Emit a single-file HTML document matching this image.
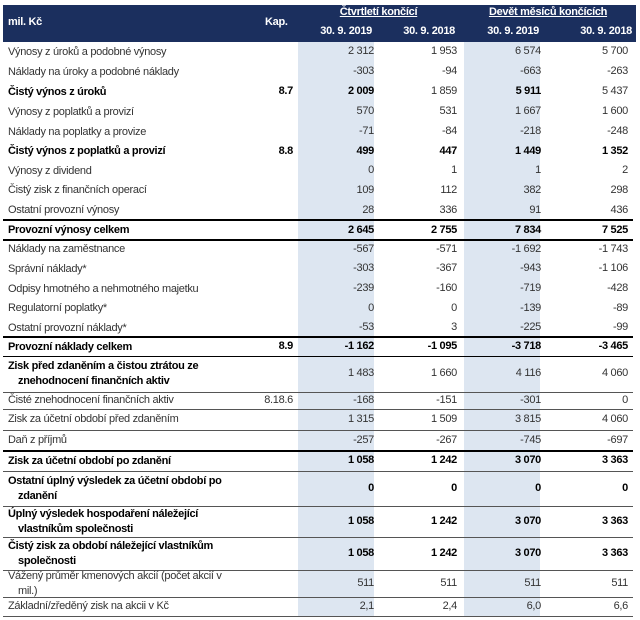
<!DOCTYPE html>
<html><head><meta charset="utf-8"><style>
body{margin:0;width:640px;height:620px;background:#fff;position:relative;overflow:hidden;font-family:"Liberation Sans",Arial,sans-serif;font-size:11px;color:#333;letter-spacing:-0.3px}
.hdr{position:absolute;left:3px;top:5px;width:633px;height:37px;background:#1b2f5e}
.h{position:absolute;color:#fff;font-weight:bold;font-size:11px}
.shade{position:absolute;top:42px;height:574px;background:#dde6f1}
.row{position:absolute;left:3px;width:630px}
.row div{position:absolute}
.lab{left:5px;line-height:15px}
.kap{right:340px;text-align:right}
.c1{right:259px}.c2{right:176px}.c3{right:92px}.c4{right:5px}
.b{font-weight:bold;color:#000}
.ln{position:absolute;left:3px;width:630px;background:#555;height:1px}
.tk{position:absolute;left:3px;width:630px;background:#000;height:2px}
.ind{padding-left:10px}
</style></head><body>
<div class="hdr"></div>
<div class="h" style="left:8px;top:16px">mil. Kč</div>
<div class="h" style="left:265px;top:16px">Kap.</div>
<div class="h" style="left:297px;width:163px;top:6px;text-align:center;text-decoration:underline">Čtvrtletí končící</div>
<div class="h" style="left:460px;width:176px;top:6px;text-align:center;text-decoration:underline">Devět měsíců končících</div>
<div class="h" style="right:268px;top:25px">30. 9. 2019</div>
<div class="h" style="right:185px;top:25px">30. 9. 2018</div>
<div class="h" style="right:101px;top:25px">30. 9. 2019</div>
<div class="h" style="right:8px;top:25px">30. 9. 2018</div>
<div class="shade" style="left:298px;width:76px"></div>
<div class="shade" style="left:464px;width:76px"></div>
<div id="rows"></div>
<div class="tk" style="top:219px"></div>
<div class="tk" style="top:239px"></div>
<div class="tk" style="top:336px"></div>
<div class="ln" style="top:356px;background:#000"></div>
<div class="ln" style="top:392px"></div>
<div class="ln" style="top:409px"></div>
<div class="ln" style="top:430px"></div>
<div class="tk" style="top:450px"></div>
<div class="ln" style="top:471px"></div>
<div class="ln" style="top:506px"></div>
<div class="ln" style="top:537px"></div>
<div class="ln" style="top:570px"></div>
<div class="ln" style="top:597px"></div>
<div class="ln" style="top:616px"></div>
<script>
const labels=[["Výnosy z úroků a podobné výnosy"],["Náklady na úroky a podobné náklady"],["Čistý výnos z úroků"],["Výnosy z poplatků a provizí"],["Náklady na poplatky a provize"],["Čistý výnos z poplatků a provizí"],["Výnosy z dividend"],["Čistý zisk z finančních operací"],["Ostatní provozní výnosy"],["Provozní výnosy celkem"],["Náklady na zaměstnance"],["Správní náklady*"],["Odpisy hmotného a nehmotného majetku"],["Regulatorní poplatky*"],["Ostatní provozní náklady*"],["Provozní náklady celkem"],["Zisk před zdaněním a čistou ztrátou ze","znehodnocení finančních aktiv"],["Čisté znehodnocení finančních aktiv"],["Zisk za účetní období před zdaněním"],["Daň z příjmů"],["Zisk za účetní období po zdanění"],["Ostatní úplný výsledek za účetní období po","zdanění"],["Úplný výsledek hospodaření náležející","vlastníkům společnosti"],["Čistý zisk za období náležející vlastníkům","společnosti"],["Vážený průměr kmenových akcií (počet akcií v","mil.)"],["Základní/zředěný zisk na akcii v Kč"]];
const kap=["","","8.7","","","8.8","","","","","","","","","","8.9","","8.18.6","","","","","","","",""];
const q2019=["2 312","-303","2 009","570","-71","499","0","109","28","2 645","-567","-303","-239","0","-53","-1 162","1 483","-168","1 315","-257","1 058","0","1 058","1 058","511","2,1"];
const q2018=["1 953","-94","1 859","531","-84","447","1","112","336","2 755","-571","-367","-160","0","3","-1 095","1 660","-151","1 509","-267","1 242","0","1 242","1 242","511","2,4"];
const m2019=["6 574","-663","5 911","1 667","-218","1 449","1","382","91","7 834","-1 692","-943","-719","-139","-225","-3 718","4 116","-301","3 815","-745","3 070","0","3 070","3 070","511","6,0"];
const m2018=["5 700","-263","5 437","1 600","-248","1 352","2","298","436","7 525","-1 743","-1 106","-428","-89","-99","-3 465","4 060","0","4 060","-697","3 363","0","3 363","3 363","511","6,6"];
const bold=[0,0,1,0,0,1,0,0,0,1,0,0,0,0,0,1,1,0,0,0,1,1,1,1,0,0];
const boldNum=[0,0,[1,0,1,0],0,0,[1,1,1,1],0,0,0,1,0,0,0,0,0,1,0,0,0,0,1,1,1,1,0,0];
const tops=[42,62,82,102,122,142,161,181,200,221,240,259,279,299,318,338,356,392,409,430,451,471,506,537,570,597,616];
const host=document.getElementById('rows');
labels.forEach((l,i)=>{
 const r=document.createElement('div');r.className='row';
 
 
 const t=tops[i],h=tops[i+1]-t;r.style.top=t+'px';r.style.height=h+'px';
 const mid=h/2;
 const lb=document.createElement('div');lb.className='lab'+(bold[i]?' b':'');
 
 
 lb.innerHTML=l[0]+(l[1]?'<br><span class="ind">'+l[1]+'</span>':'');
 lb.style.top=(mid-(l.length*15)/2)+'px';r.appendChild(lb);
 const k=document.createElement('div');k.className='kap'+(kap[i]==='8.18.6'?'':' b');k.textContent=kap[i];k.style.top=(mid-7)+'px';
 
 
 r.appendChild(k);
 [q2019,q2018,m2019,m2018].forEach((arr,j)=>{
  const c=document.createElement('div');c.className='c'+(j+1);
  
  
  const bn=boldNum[i];const isB=Array.isArray(bn)?bn[j]:bn;
  if(isB)c.classList.add('b');
  c.textContent=arr[i];c.style.top=(mid-7)+'px';r.appendChild(c);
 });
 host.appendChild(r);
});
</script>
</body></html>
